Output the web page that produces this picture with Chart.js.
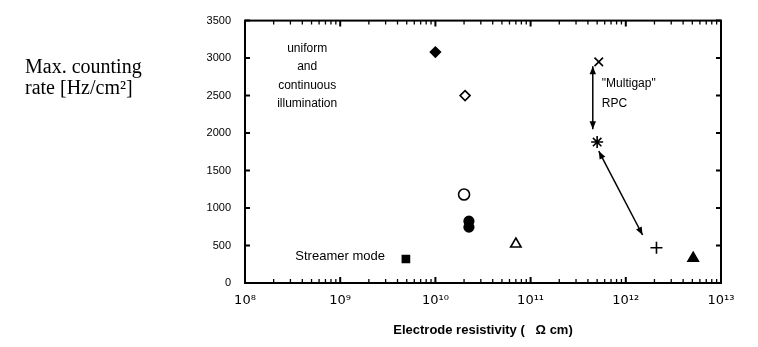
<!DOCTYPE html>
<html>
<head>
<meta charset="utf-8">
<script src="https://cdn.jsdelivr.net/npm/chart.js@4/dist/chart.umd.min.js"></script>
<style>
  html, body { margin: 0; padding: 0; background: #fff; }
  canvas { display: block; }
</style>
</head>
<body>
<canvas id="rateChart" width="758" height="347"></canvas>
<script>
// axis ticks
const xDecades = [1e8, 1e9, 1e10, 1e11, 1e12, 1e13];
const xTickLabels = ['10⁸', '10⁹', '10¹⁰', '10¹¹', '10¹²', '10¹³'];
const yTicks = [0, 500, 1000, 1500, 2000, 2500, 3000, 3500];

// measured points (resistivity in Ohm cm, rate in Hz/cm2)
const resistivity  = [1.0e10, 2.05e10, 2.0e10, 2.25e10, 2.25e10, 4.9e9, 7.0e10, 5.2e11, 5.0e11, 2.1e12, 5.1e12];
const countingRate = [3080,   2500,    1180,   825,     745,     320,   520,    2950,   1880,   470,    330];
const markerStyle  = ['rectRot', 'rectRot', 'circle', 'circle', 'circle', 'rect', 'triangle', 'crossRot', 'star', 'cross', 'triangle'];
const markerFilled = [true, false, false, true, true, true, false, false, false, false, true];
const markerSize   = [5, 5, 5.5, 4.8, 4.8, 5, 6, 6, 6, 6, 6];

// double arrows, [x1, y1, x2, y2] in data units
const arrowMultigap = [4.5e11, 2890, 4.5e11, 2050];
const arrowDiagonal = [5.2e11, 1760, 1.5e12, 640];

// text annotations
const illumText = ['uniform', 'and', 'continuous', 'illumination'];
const streamerText = 'Streamer mode';
const multigapText = ['"Multigap"', 'RPC'];

const datasets = resistivity.map((r, i) => ({
  data: [{ x: r, y: countingRate[i] }],
  pointStyle: markerStyle[i],
  pointRadius: markerSize[i],
  pointBackgroundColor: markerFilled[i] ? '#000' : '#fff',
  pointBorderColor: '#000',
  pointBorderWidth: 1.6,
  showLine: false
}));

function arrowHead(ctx, x1, y1, x2, y2) {
  const a = Math.atan2(y2 - y1, x2 - x1);
  const len = 8, half = 3.2;
  ctx.beginPath();
  ctx.moveTo(x2, y2);
  ctx.lineTo(x2 - len * Math.cos(a) + half * Math.sin(a), y2 - len * Math.sin(a) - half * Math.cos(a));
  ctx.lineTo(x2 - len * Math.cos(a) - half * Math.sin(a), y2 - len * Math.sin(a) + half * Math.cos(a));
  ctx.closePath();
  ctx.fill();
}

function doubleArrow(ctx, xs, ys, a) {
  const x1 = xs.getPixelForValue(a[0]), y1 = ys.getPixelForValue(a[1]);
  const x2 = xs.getPixelForValue(a[2]), y2 = ys.getPixelForValue(a[3]);
  ctx.lineWidth = 1.5;
  ctx.beginPath();
  ctx.moveTo(x1, y1);
  ctx.lineTo(x2, y2);
  ctx.stroke();
  arrowHead(ctx, x1, y1, x2, y2);
  arrowHead(ctx, x2, y2, x1, y1);
}

const framePlugin = {
  id: 'frame',
  afterDraw(chart) {
    const ctx = chart.ctx;
    const { left, right, top, bottom } = chart.chartArea;
    const xs = chart.scales.x, ys = chart.scales.y;
    ctx.save();
    ctx.strokeStyle = '#000';
    ctx.fillStyle = '#000';

    // box
    ctx.lineWidth = 2;
    ctx.strokeRect(left, top, right - left, bottom - top);

    // y ticks, both sides, inward
    ctx.lineWidth = 2;
    yTicks.forEach(v => {
      const y = ys.getPixelForValue(v);
      ctx.beginPath();
      ctx.moveTo(left, y); ctx.lineTo(left + 5, y);
      ctx.moveTo(right, y); ctx.lineTo(right - 5, y);
      ctx.stroke();
    });

    // log ticks top and bottom, inward
    ctx.lineWidth = 1.3;
    for (let d = 0; d < xDecades.length - 1; d++) {
      for (let m = 2; m <= 9; m++) {
        const x = xs.getPixelForValue(xDecades[d] * m);
        ctx.beginPath();
        ctx.moveTo(x, bottom); ctx.lineTo(x, bottom - 4);
        ctx.moveTo(x, top); ctx.lineTo(x, top + 4);
        ctx.stroke();
      }
    }
    ctx.lineWidth = 2;
    xDecades.forEach(v => {
      const x = xs.getPixelForValue(v);
      ctx.beginPath();
      ctx.moveTo(x, bottom); ctx.lineTo(x, bottom - 6);
      ctx.moveTo(x, top); ctx.lineTo(x, top + 6);
      ctx.stroke();
    });

    // arrows
    doubleArrow(ctx, xs, ys, arrowMultigap);
    doubleArrow(ctx, xs, ys, arrowDiagonal);

    // annotations
    ctx.font = '12px "Liberation Sans", Arial, sans-serif';
    ctx.textAlign = 'center';
    ctx.textBaseline = 'middle';
    const ix = xs.getPixelForValue(4.5e8);
    illumText.forEach((t, i) => ctx.fillText(t, ix, ys.getPixelForValue(3130) + i * 18.5));

    ctx.font = '13px "Liberation Sans", Arial, sans-serif';
    ctx.textAlign = 'right';
    ctx.fillText(streamerText, xs.getPixelForValue(2.95e9), ys.getPixelForValue(360));

    ctx.font = '12px "Liberation Sans", Arial, sans-serif';
    ctx.textAlign = 'left';
    multigapText.forEach((t, i) => ctx.fillText(t, xs.getPixelForValue(5.6e11), ys.getPixelForValue(2660) + i * 20));

    // y label, horizontal at left
    ctx.font = '20px "Liberation Serif", "Times New Roman", serif';
    ctx.textAlign = 'left';
    ctx.fillText('Max. counting', 25, 68);
    ctx.fillText('rate [Hz/cm²]', 25, 89);
    ctx.restore();
  }
};

new Chart(document.getElementById('rateChart'), {
  type: 'scatter',
  data: { datasets: datasets },
  options: {
    responsive: false,
    animation: false,
    devicePixelRatio: 1,
    layout: { padding: { left: 0, right: 37, top: 17, bottom: 0 } },
    plugins: {
      legend: { display: false },
      tooltip: { enabled: false }
    },
    scales: {
      x: {
        type: 'logarithmic',
        min: 1e8,
        max: 1e13,
        grid: { display: false, drawTicks: false },
        border: { display: false },
        afterBuildTicks: (scale) => {
          scale.ticks = xDecades.map(v => ({ value: v, major: true }));
        },
        afterFit: (scale) => { scale.height = 64; },
        ticks: {
          autoSkip: false,
          maxRotation: 0,
          padding: 10,
          color: '#000',
          font: { family: '"DejaVu Sans", "Liberation Sans", sans-serif', size: 13 },
          callback: (val, i) => xTickLabels[i]
        },
        title: {
          display: true,
          text: 'Electrode resistivity (   Ω cm)',
          color: '#000',
          font: { family: '"Liberation Sans", Arial, sans-serif', size: 13, weight: 'bold' },
          padding: { top: 0, bottom: 9 }
        }
      },
      y: {
        min: 0,
        max: 3500,
        grid: { display: false, drawTicks: false },
        border: { display: false },
        afterFit: (scale) => { scale.width = 245; },
        ticks: {
          stepSize: 500,
          padding: 14,
          color: '#000',
          font: { family: '"Liberation Sans", Arial, sans-serif', size: 11 },
          callback: (val) => String(val)
        }
      }
    }
  },
  plugins: [framePlugin]
});
</script>
</body>
</html>
